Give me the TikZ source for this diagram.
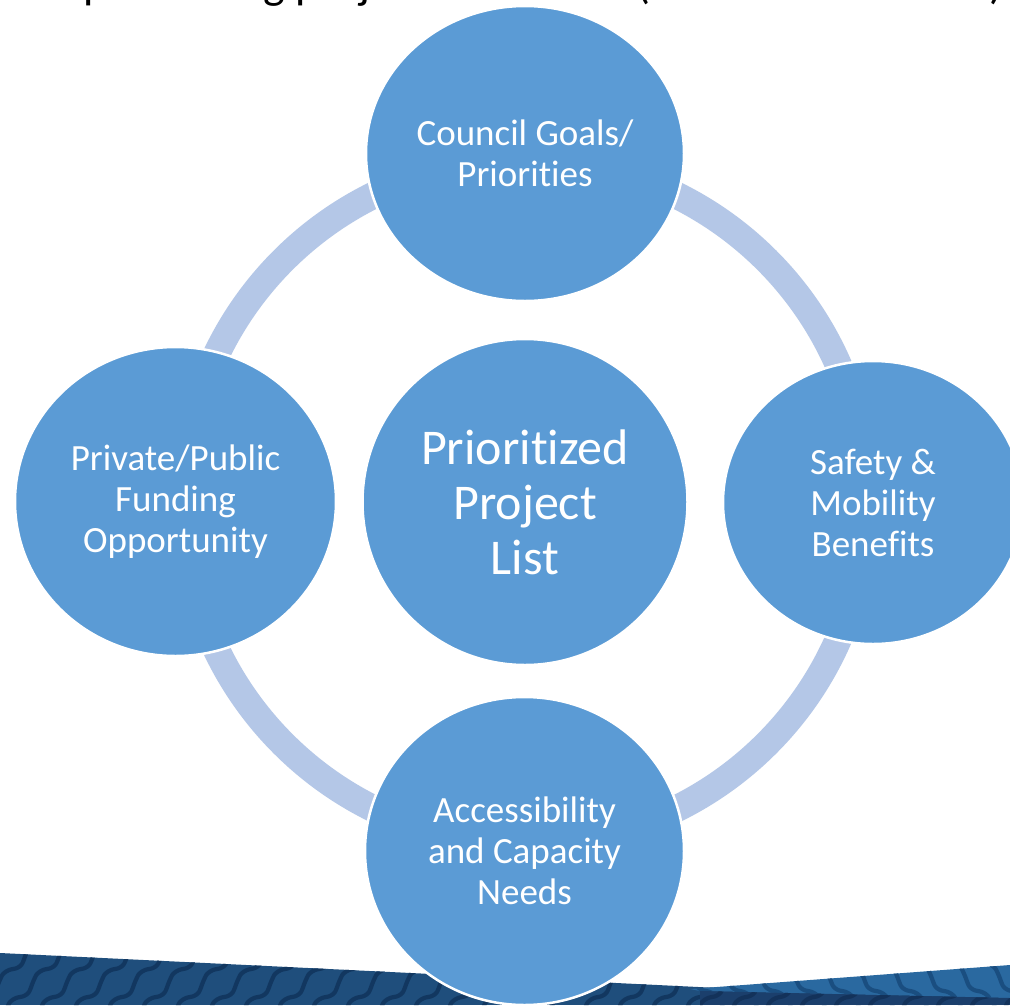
\documentclass[tikz,border=0pt]{standalone}
\usepackage{fontspec}
\setmainfont{Carlito}[Ligatures={NoCommon}]
\usetikzlibrary{shapes.geometric}
\definecolor{circfill}{HTML}{5B9BD5}
\definecolor{ringc}{HTML}{B4C7E7}
\definecolor{banddark}{HTML}{1F4E7C}
\definecolor{bandwave}{HTML}{123760}
\definecolor{bandlight}{HTML}{2A69A0}
\definecolor{bandlightwave}{HTML}{1A4E80}
\definecolor{banddeep}{HTML}{1B3F6C}
\definecolor{banddeepwave}{HTML}{13325A}
\begin{document}
\begin{tikzpicture}[x=1pt,y=-1pt,
  bubble/.style={ellipse, fill=circfill, draw=white, line width=2.5pt, inner sep=0pt, text=white, align=center},
  outerlabel/.style={font=\fontsize{37}{41}\selectfont},
  centerlabel/.style={font=\fontsize{50}{55}\selectfont},
  wave/.style={line width=4.2pt, line cap=round},
  ringstyle/.style={draw=ringc, line width=27pt}
]
\useasboundingbox (0,0) rectangle (1010,1005);
\clip (0,0) rectangle (1010,1005);
\fill[white] (0,0) rectangle (1010,1005);

% title (cut off at the top)
\node[anchor=base west, inner sep=0pt, font=\fontsize{46}{50}\selectfont] (title) at (83,-2) {prioritizing projects based on (evaluation criteria)};

% centre coordinate of the ring
\coordinate (hub) at (525,502);
\draw[ringstyle] (hub) circle (342);

% bottom band, dark part
\begin{scope}
  \clip (0,953) -- (760,990) -- (1010,996) -- (1010,1005) -- (0,1005) -- cycle;
  \fill[banddark] (0,940) rectangle (1010,1005);
  \foreach \x in {-100,-66,...,1010}
    \draw[wave, bandwave, shift={(\x,0)}] plot[smooth, tension=0.5] coordinates {(0,1020) (4,1010) (8,1002) (14,998) (22,996) (27,992) (31,982) (35,974) (41,970) (49,968) (54,964) (58,954) (62,946) (68,942) (76,940)};
\end{scope}
% lighter rising band at right
\begin{scope}
  \clip (690,989) -- (1010,965) -- (1010,998) -- (700,991) -- cycle;
  \fill[bandlight] (680,950) rectangle (1010,1005);
  \foreach \x in {690,724,...,1080}
    \draw[wave, bandlightwave, shift={(\x,0)}] plot[smooth, tension=0.5] coordinates {(0,1014) (-4,1004) (-8,996) (-14,992) (-22,990) (-27,986) (-31,976) (-35,968) (-41,964) (-49,962) (-54,958) (-58,948)};
\end{scope}
% deep band at bottom right
\begin{scope}
  \clip (700,991) -- (1010,998) -- (1010,1005) -- (700,1005) -- cycle;
  \fill[banddeep] (690,985) rectangle (1010,1005);
  \foreach \x in {660,694,...,1040}
    \draw[wave, banddeepwave, shift={(\x,0)}] plot[smooth, tension=0.5] coordinates {(0,1020) (4,1010) (8,1002) (14,998) (22,996) (27,992) (31,982)};
\end{scope}

% circles
\node[bubble, outerlabel, minimum width=318pt, minimum height=295pt] (goals) at (525,153.5) {Council Goals/\\Priorities};
\node[bubble, outerlabel, minimum width=321pt, minimum height=309pt] (funding) at (175.5,501.5) {Private/Public\\Funding\\Opportunity};
\node[bubble, outerlabel, minimum width=300pt, minimum height=283pt] (safety) at (873,502.5) {Safety \&\\Mobility\\Benefits};
\node[bubble, outerlabel, minimum width=319pt, minimum height=308pt] (access) at (524.5,851) {Accessibility\\and Capacity\\Needs};
\node[bubble, centerlabel, minimum width=325pt, minimum height=326pt] (list) at (hub) {Prioritized\\Project\\List};
\end{tikzpicture}
\end{document}
